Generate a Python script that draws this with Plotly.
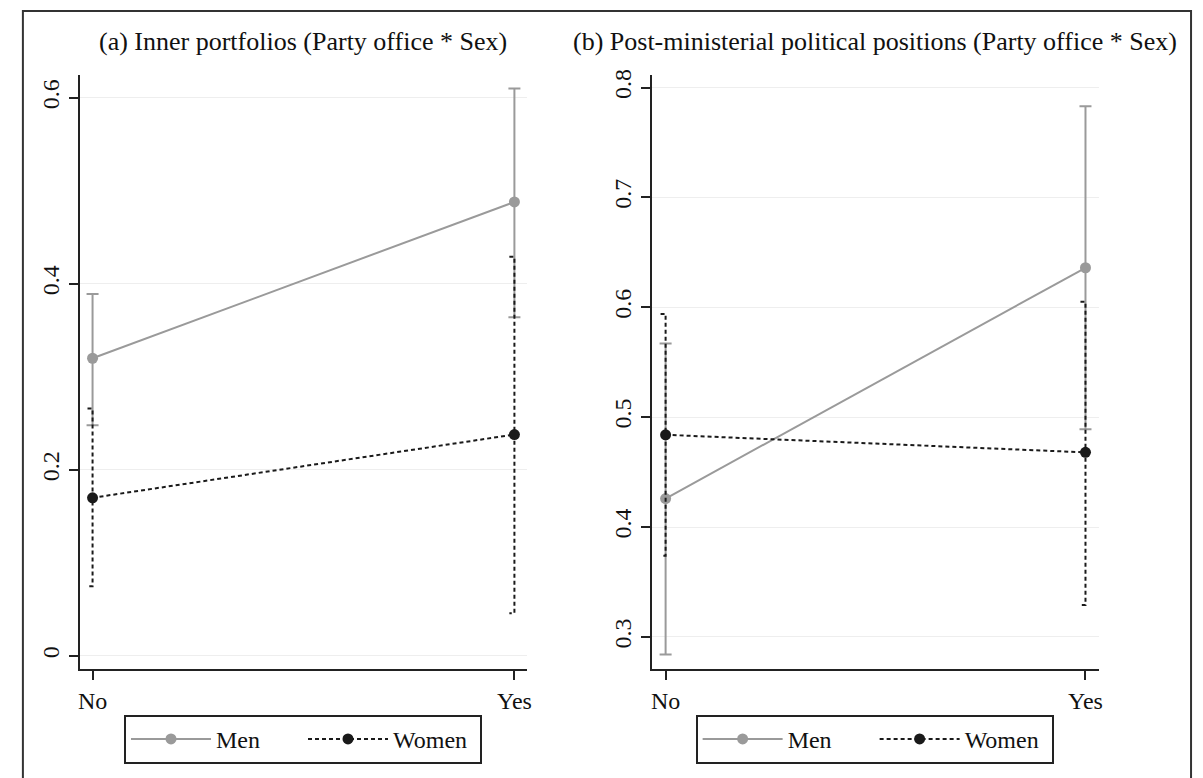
import plotly.graph_objects as go

# ---- data ----
categories = ["No", "Yes"]
cat_pos = [0, 1]

titles = ["(a) Inner portfolios (Party office * Sex)",
          "(b) Post-ministerial political positions (Party office * Sex)"]

men_a = [0.320, 0.488]
men_a_lo = [0.248, 0.364]
men_a_hi = [0.389, 0.610]
women_a = [0.170, 0.238]
women_a_lo = [0.075, 0.046]
women_a_hi = [0.266, 0.429]

men_b = [0.426, 0.636]
men_b_lo = [0.284, 0.489]
men_b_hi = [0.567, 0.783]
women_b = [0.484, 0.468]
women_b_lo = [0.374, 0.329]
women_b_hi = [0.594, 0.605]

yticks_a = [0, 0.2, 0.4, 0.6]
yticks_b = [0.3, 0.4, 0.5, 0.6, 0.7, 0.8]

# ---- style ----
W, H = 1203, 778
FONT = "Liberation Serif"
GRAY = "#9a9a9a"
BLACK = "#1a1a1a"
AX = "#222222"
DASH = "4px,3px"
CAP = 0.012

fig = go.Figure()


def add_panel(xa, ya, legend, men, men_lo, men_hi, wom, wom_lo, wom_hi):
    # men with solid error bars
    fig.add_trace(go.Scatter(
        x=cat_pos, y=men, mode="lines+markers", name="Men",
        line=dict(color=GRAY, width=2),
        marker=dict(color=GRAY, size=11),
        error_y=dict(type="data", symmetric=False,
                     array=[h - v for h, v in zip(men_hi, men)],
                     arrayminus=[v - l for l, v in zip(men_lo, men)],
                     color=GRAY, thickness=2, width=6),
        xaxis=xa, yaxis=ya, legend=legend))
    # women dashed CI
    cx, cy = [], []
    for x, lo, hi in zip(cat_pos, wom_lo, wom_hi):
        cx += [x - CAP, x, x, x - CAP, None]
        cy += [hi, hi, lo, lo, None]
    fig.add_trace(go.Scatter(
        x=cx, y=cy, mode="lines", showlegend=False, hoverinfo="skip",
        line=dict(color=BLACK, width=2, dash=DASH),
        xaxis=xa, yaxis=ya))
    fig.add_trace(go.Scatter(
        x=cat_pos, y=wom, mode="lines+markers", name="Women",
        line=dict(color=BLACK, width=2, dash=DASH),
        marker=dict(color=BLACK, size=11),
        xaxis=xa, yaxis=ya, legend=legend))


add_panel("x", "y", "legend", men_a, men_a_lo, men_a_hi,
          women_a, women_a_lo, women_a_hi)
add_panel("x2", "y2", "legend2", men_b, men_b_lo, men_b_hi,
          women_b, women_b_lo, women_b_hi)

xdom_a = [78 / W, 528 / W]
xdom_b = [653 / W, 1102 / W]
ydom = [1 - 668 / H, 1 - 70 / H]

common_x = dict(tickvals=cat_pos, ticktext=categories, showgrid=False,
                zeroline=False, showline=True, linecolor=AX, linewidth=2,
                ticks="outside", ticklen=9, tickwidth=2, tickcolor=AX,
                tickfont=dict(family=FONT, size=24, color="#111"))
common_y = dict(showgrid=True, gridcolor="#eeeeee", gridwidth=1,
                zeroline=False, showline=True, linecolor=AX, linewidth=2,
                ticks="outside", ticklen=9, tickwidth=2, tickcolor=AX,
                tickangle=-90,
                tickfont=dict(family=FONT, size=24, color="#111"))

legend_common = dict(orientation="h", xanchor="center", yanchor="middle",
                     bordercolor=AX, borderwidth=2, bgcolor="white",
                     font=dict(family=FONT, size=24, color="#111"),
                     entrywidth=82, itemwidth=80)

fig.update_layout(
    width=W, height=H,
    margin=dict(l=0, r=0, t=0, b=0),
    paper_bgcolor="white", plot_bgcolor="white",
    xaxis=dict(domain=xdom_a, range=[-0.0307, 1.0307], anchor="y", **common_x),
    yaxis=dict(domain=ydom, range=[-0.0139, 0.624], tickvals=yticks_a,
               anchor="x", **common_y),
    xaxis2=dict(domain=xdom_b, range=[-0.033, 1.031], anchor="y2", **common_x),
    yaxis2=dict(domain=ydom, range=[0.271, 0.811], tickvals=yticks_b,
                anchor="x2", **common_y),
    legend=dict(x=302.5 / W, y=1 - 739 / H, **legend_common),
    legend2=dict(x=877 / W, y=1 - 739 / H, **legend_common),
    showlegend=True,
)

for i, t in enumerate(titles):
    dom = xdom_a if i == 0 else xdom_b
    fig.add_annotation(text=t, xref="paper", yref="paper",
                       x=(dom[0] + dom[1]) / 2, y=1 - 36 / H,
                       xanchor="center", yanchor="middle", showarrow=False,
                       font=dict(family=FONT, size=26, color="#111"))

# outer frame
fig.add_shape(type="rect", xref="paper", yref="paper",
              x0=21 / W, x1=1195 / W, y0=-0.05, y1=1 - 5 / H,
              line=dict(color="#333333", width=2), layer="below")

fig.write_html("out.html",
               config={"displayModeBar": False},
               post_script="document.body.style.margin='0';"
                           "document.body.style.overflow='hidden';")
